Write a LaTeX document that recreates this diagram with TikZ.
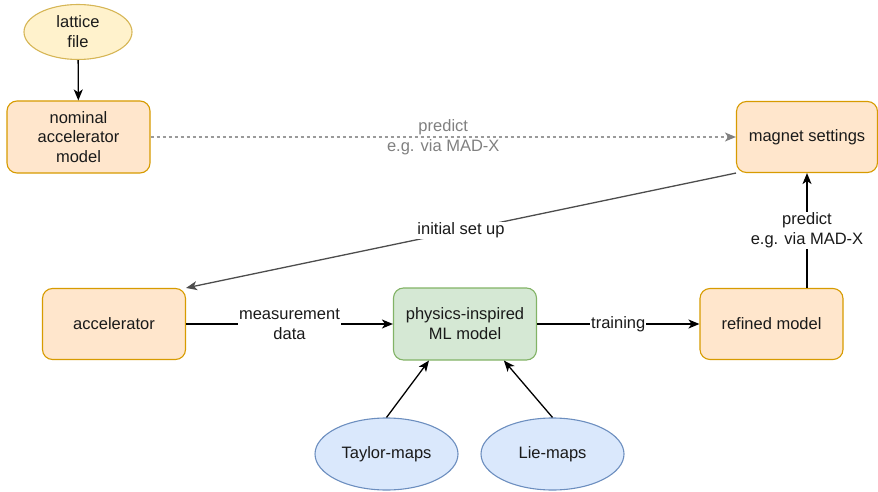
\documentclass[tikz,border=0pt]{standalone}
\usepackage{fontspec}
\setmainfont{Liberation Sans}
\usetikzlibrary{arrows.meta,shapes.geometric,calc}
\definecolor{orfill}{HTML}{FFE6CC}
\definecolor{ordraw}{HTML}{D79B00}
\definecolor{yefill}{HTML}{FFF2CC}
\definecolor{yedraw}{HTML}{D6B656}
\definecolor{grfill}{HTML}{D5E8D4}
\definecolor{grdraw}{HTML}{82B366}
\definecolor{blfill}{HTML}{DAE8FC}
\definecolor{bldraw}{HTML}{6C8EBF}
\definecolor{txt}{HTML}{1A1A1A}
\definecolor{lightline}{HTML}{9A9A9A}
\definecolor{lighttxt}{HTML}{808080}
\definecolor{darkline}{HTML}{4D4D4D}
\tikzset{
  base/.style={inner sep=0pt, align=center, text=txt, line width=1.1pt},
  orbox/.style={base, rectangle, rounded corners=10pt, fill=orfill, draw=ordraw, minimum width=143pt, minimum height=71pt},
  grbox/.style={base, rectangle, rounded corners=10pt, fill=grfill, draw=grdraw, minimum width=143pt, minimum height=72pt},
  yeell/.style={base, ellipse, fill=yefill, draw=yedraw, minimum width=108pt, minimum height=55pt},
  blell/.style={base, ellipse, fill=blfill, draw=bldraw, minimum width=143pt, minimum height=72pt},
  arr/.style={line width=1.3pt, draw=black, -{Stealth[length=11pt,width=9pt,inset=3pt]}},
  darr/.style={line width=1.3pt, draw=darkline, -{Stealth[length=11pt,width=9pt,inset=3pt]}},
  dasharr/.style={line width=1.3pt, draw=lightline, dash pattern=on 3pt off 3pt, -{Stealth[length=11pt,width=9pt,inset=3pt,color=lighttxt]}},
  lbl/.style={fill=white, inner sep=1pt, align=center, text=txt},
  glbl/.style={inner sep=0pt, align=center, text=lighttxt},
}
\begin{document}
\begin{tikzpicture}[x=1pt,y=-1pt,font=\fontsize{16.5}{19.8}\selectfont]
\useasboundingbox (0,0) rectangle (878,492);
\node[yeell] (lat) at (78,32) {lattice\\file};
\node[orbox, minimum height=72pt] (nom) at (78.5,137) {nominal\\accelerator\\model};
\node[orbox, minimum width=141pt] (mag) at (807,137) {magnet settings};
\node[orbox] (acc) at (114,324) {accelerator};
\node[grbox] (ml) at (465,324) {physics-inspired\\ML model};
\node[orbox] (ref) at (771.5,324) {refined model};
\node[blell] (tay) at (386.5,454) {Taylor-maps};
\node[blell] (lie) at (552.5,454) {Lie-maps};

\draw[arr] (lat) -- (nom);
\draw[dasharr] (nom) -- node[glbl] {predict\\e.g. via MAD-X} (mag);
\draw[darr] (mag.south west) -- node[lbl] {initial set up} (acc.north east);
\draw[arr] (acc) -- node[lbl] {measurement\\data} (ml);
\draw[arr] (ml) -- node[lbl] {training} (ref);
\draw[arr] (mag.south |- ref.north) -- node[lbl] {predict\\e.g. via MAD-X} (mag.south);
\draw[arr] (tay.north) -- ($(ml.south west)!0.25!(ml.south east)$);
\draw[arr] (lie.north) -- ($(ml.south west)!0.77!(ml.south east)$);
\end{tikzpicture}
\end{document}
